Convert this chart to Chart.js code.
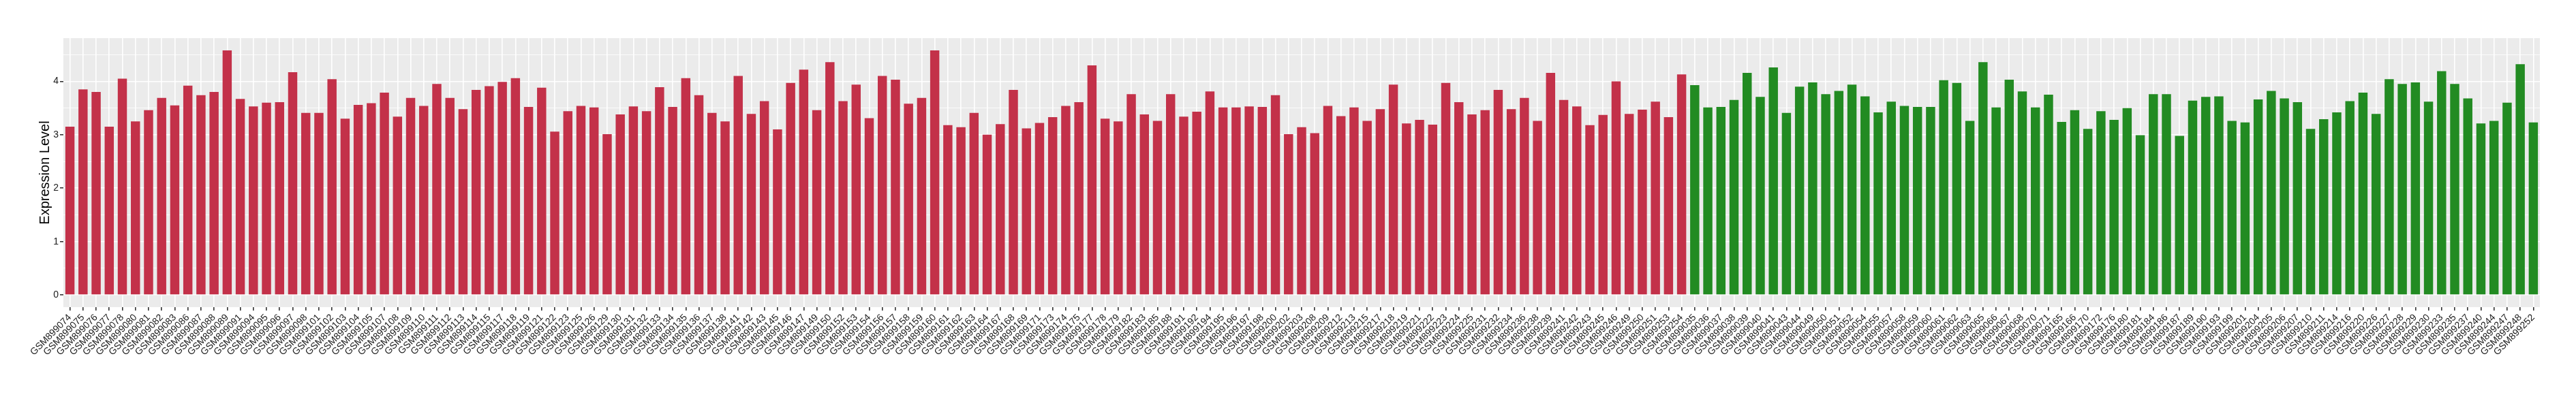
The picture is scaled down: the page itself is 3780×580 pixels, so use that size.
<!DOCTYPE html>
<html>
<head>
<meta charset="utf-8">
<title>Expression Level</title>
<script src="https://cdn.jsdelivr.net/npm/chart.js@4.4.1/dist/chart.umd.min.js"></script>
<style>
  html, body { margin: 0; padding: 0; background: #fff; }
  #wrap { width: 3780px; height: 580px; }
</style>
</head>
<body>
<div id="wrap"><canvas id="chart" width="3780" height="580"></canvas></div>
<script>
// First group (red bars)
const redSamples = [
  'GSM899074','GSM899075','GSM899076','GSM899077','GSM899078','GSM899080','GSM899081','GSM899082','GSM899083','GSM899086',
  'GSM899087','GSM899088','GSM899089','GSM899091','GSM899094','GSM899095','GSM899096','GSM899097','GSM899098','GSM899101',
  'GSM899102','GSM899103','GSM899104','GSM899105','GSM899107','GSM899108','GSM899109','GSM899110','GSM899111','GSM899112',
  'GSM899113','GSM899114','GSM899115','GSM899117','GSM899118','GSM899119','GSM899121','GSM899122','GSM899123','GSM899125',
  'GSM899126','GSM899129','GSM899130','GSM899131','GSM899132','GSM899133','GSM899134','GSM899135','GSM899136','GSM899137',
  'GSM899138','GSM899141','GSM899142','GSM899143','GSM899145','GSM899146','GSM899147','GSM899149','GSM899150','GSM899152',
  'GSM899153','GSM899154','GSM899156','GSM899157','GSM899158','GSM899159','GSM899160','GSM899161','GSM899162','GSM899163',
  'GSM899164','GSM899167','GSM899168','GSM899169','GSM899171','GSM899173','GSM899174','GSM899175','GSM899177','GSM899178',
  'GSM899179','GSM899182','GSM899183','GSM899185','GSM899188','GSM899191','GSM899192','GSM899194','GSM899195','GSM899196',
  'GSM899197','GSM899198','GSM899200','GSM899202','GSM899203','GSM899208','GSM899209','GSM899212','GSM899213','GSM899215',
  'GSM899217','GSM899218','GSM899219','GSM899221','GSM899222','GSM899223','GSM899224','GSM899225','GSM899231','GSM899232',
  'GSM899234','GSM899236','GSM899238','GSM899239','GSM899241','GSM899242','GSM899243','GSM899245','GSM899246','GSM899249',
  'GSM899250','GSM899251','GSM899253','GSM899254'
];
const redValues = [
  3.15, 3.85, 3.80, 3.15, 4.05, 3.25, 3.46, 3.69, 3.55, 3.92,
  3.74, 3.80, 4.58, 3.67, 3.53, 3.60, 3.61, 4.17, 3.41, 3.41,
  4.04, 3.30, 3.56, 3.59, 3.79, 3.34, 3.69, 3.54, 3.95, 3.69,
  3.48, 3.84, 3.91, 3.99, 4.06, 3.52, 3.88, 3.06, 3.44, 3.54,
  3.51, 3.01, 3.38, 3.53, 3.44, 3.89, 3.52, 4.06, 3.74, 3.41,
  3.25, 4.10, 3.39, 3.63, 3.10, 3.97, 4.22, 3.46, 4.36, 3.63,
  3.94, 3.31, 4.10, 4.03, 3.58, 3.69, 4.58, 3.18, 3.14, 3.41,
  3.00, 3.20, 3.84, 3.12, 3.22, 3.33, 3.54, 3.61, 4.30, 3.30,
  3.25, 3.76, 3.38, 3.26, 3.76, 3.34, 3.43, 3.81, 3.51, 3.51,
  3.53, 3.52, 3.74, 3.01, 3.14, 3.03, 3.54, 3.35, 3.51, 3.26,
  3.48, 3.94, 3.21, 3.28, 3.19, 3.97, 3.61, 3.38, 3.46, 3.84,
  3.48, 3.69, 3.26, 4.16, 3.65, 3.53, 3.18, 3.37, 4.00, 3.39,
  3.47, 3.62, 3.33, 4.13
];

// Second group (green bars)
const greenSamples = [
  'GSM899035','GSM899036','GSM899037','GSM899038','GSM899039','GSM899040','GSM899041','GSM899043','GSM899044','GSM899049',
  'GSM899050','GSM899051','GSM899052','GSM899054','GSM899055','GSM899057','GSM899058','GSM899059','GSM899060','GSM899061',
  'GSM899062','GSM899063','GSM899065','GSM899066','GSM899067','GSM899068','GSM899070','GSM899071','GSM899165','GSM899166',
  'GSM899170','GSM899172','GSM899176','GSM899180','GSM899181','GSM899184','GSM899186','GSM899187','GSM899189','GSM899190',
  'GSM899193','GSM899199','GSM899201','GSM899204','GSM899205','GSM899206','GSM899207','GSM899210','GSM899211','GSM899214',
  'GSM899216','GSM899220','GSM899226','GSM899227','GSM899228','GSM899229','GSM899230','GSM899233','GSM899235','GSM899237',
  'GSM899240','GSM899244','GSM899247','GSM899248','GSM899252'
];
const greenValues = [
  3.93, 3.51, 3.52, 3.65, 4.16, 3.71, 4.26, 3.41, 3.90, 3.98,
  3.76, 3.82, 3.94, 3.72, 3.42, 3.62, 3.54, 3.52, 3.52, 4.02,
  3.97, 3.26, 4.36, 3.51, 4.03, 3.81, 3.51, 3.75, 3.24, 3.46,
  3.11, 3.44, 3.28, 3.50, 2.99, 3.76, 3.76, 2.98, 3.64, 3.71,
  3.72, 3.26, 3.23, 3.66, 3.82, 3.68, 3.61, 3.11, 3.29, 3.42,
  3.63, 3.79, 3.39, 4.04, 3.95, 3.98, 3.62, 4.19, 3.95, 3.68,
  3.21, 3.26, 3.60, 4.32, 3.23
];

const yTicks = [0, 1, 2, 3, 4];
const yMinorTicks = [0.5, 1.5, 2.5, 3.5, 4.5];

const RED = '#C33149';
const GREEN = '#228B22';
const FONT = "'Liberation Sans', Arial, Helvetica, sans-serif";

const labels = redSamples.concat(greenSamples);
const values = redValues.concat(greenValues);
const colors = redValues.map(() => RED).concat(greenValues.map(() => GREEN));

// ggplot-like 5% expansion of the continuous axis
const dataMax = Math.max(...values);
const yPad = dataMax * 0.05;

const isMajor = v => yTicks.includes(v);

// grey panel behind the plot area
const panelBg = {
  id: 'panelBg',
  beforeDraw(chart) {
    const { ctx, chartArea: a } = chart;
    ctx.save();
    ctx.fillStyle = '#EBEBEB';
    ctx.fillRect(a.left, a.top, a.right - a.left, a.bottom - a.top);
    ctx.restore();
  },
};

new Chart(document.getElementById('chart').getContext('2d'), {
  type: 'bar',
  data: {
    labels,
    datasets: [{
      data: values,
      backgroundColor: colors,
      borderWidth: 0,
      categoryPercentage: 1,
      barPercentage: 0.7,
    }],
  },
  options: {
    responsive: false,
    animation: false,
    devicePixelRatio: 1,
    layout: { padding: { left: 50, top: 56, right: 53, bottom: 0 } },
    plugins: {
      legend: { display: false },
      tooltip: { enabled: false },
    },
    scales: {
      x: {
        offset: true,
        border: { display: false },
        grid: {
          offset: false,
          color: '#FFFFFF',
          lineWidth: 1.6,
          tickColor: '#333333',
          tickLength: 5,
        },
        ticks: {
          autoSkip: false,
          minRotation: 45,
          maxRotation: 45,
          padding: 2,
          color: '#1a1a1a',
          font: { family: FONT, size: 14 },
        },
        afterFit: s => { s.height = 129; },
      },
      y: {
        min: -yPad,
        max: dataMax + yPad,
        border: { display: false },
        afterBuildTicks: s => {
          s.ticks = yTicks.concat(yMinorTicks).sort((a, b) => a - b).map(v => ({ value: v }));
        },
        grid: {
          color: '#FFFFFF',
          lineWidth: ctx => (ctx.tick && isMajor(ctx.tick.value) ? 1.6 : 0.8),
          tickColor: ctx => (ctx.tick && isMajor(ctx.tick.value) ? '#333333' : 'rgba(0,0,0,0)'),
          tickLength: 5,
        },
        ticks: {
          autoSkip: false,
          padding: 2,
          color: '#1a1a1a',
          font: { family: FONT, size: 14 },
          callback: v => (isMajor(v) ? String(v) : ''),
        },
        title: {
          display: true,
          text: 'Expression Level',
          color: '#000000',
          font: { family: FONT, size: 20 },
          padding: { top: 4, bottom: 4 },
        },
        afterFit: s => { s.width = 43; },
      },
    },
  },
  plugins: [panelBg],
});
</script>
</body>
</html>
